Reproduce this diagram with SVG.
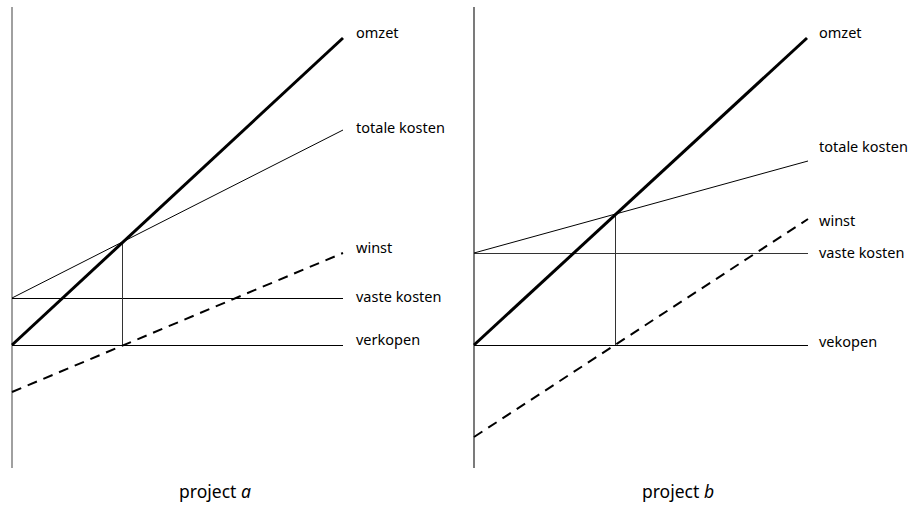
<svg xmlns="http://www.w3.org/2000/svg" width="910" height="506" viewBox="0 0 910 506">
  <style>
    .axis { stroke: #808080; stroke-width: 1.5; fill: none; }
    .axis-b { stroke: #222; stroke-width: 1.2; fill: none; }
    .thin { stroke: #000; stroke-width: 1; fill: none; }
    .guide { stroke: #333; stroke-width: 1; fill: none; }
    .revenue { stroke: #000; stroke-width: 3; fill: none; }
    .profit { stroke: #000; stroke-width: 2; stroke-dasharray: 10 7; fill: none; }
    .lbl { font-family: "Noto Sans", "Liberation Sans", sans-serif; font-size: 14.5px; fill: #000; }
    .cap { font-family: "Noto Sans", "Liberation Sans", sans-serif; font-size: 17.5px; fill: #000; }
  </style>
  <rect width="910" height="506" fill="#fff"/>

  <!-- project a -->
  <g id="chart-a">
    <g id="connectors-a">
      <line class="axis" x1="12" y1="7" x2="12" y2="468"/>
      <line class="thin" x1="12" y1="298.5" x2="343" y2="298.5"/>
      <line class="thin" x1="12" y1="345.5" x2="343" y2="345.5"/>
      <line class="thin" x1="12" y1="298" x2="343" y2="130"/>
      <line class="guide" x1="122.5" y1="243" x2="122.5" y2="345"/>
      <line class="revenue" x1="12" y1="345" x2="343" y2="38"/>
      <line class="profit" x1="12" y1="392" x2="343" y2="253"/>
    </g>
    <g id="labels-a">
      <text class="lbl" x="356" y="38">omzet</text>
      <text class="lbl" x="356" y="133">totale kosten</text>
      <text class="lbl" x="356" y="253">winst</text>
      <text class="lbl" x="356" y="302">vaste kosten</text>
      <text class="lbl" x="356" y="345">verkopen</text>
    </g>
    <text class="cap" x="215" y="498" text-anchor="middle">project <tspan font-style="italic">a</tspan></text>
  </g>

  <!-- project b -->
  <g id="chart-b">
    <g id="connectors-b">
      <line class="axis-b" x1="474" y1="7" x2="474" y2="468"/>
      <line class="guide" x1="474" y1="253.5" x2="808" y2="253.5"/>
      <line class="thin" x1="474" y1="345.5" x2="808" y2="345.5"/>
      <line class="thin" x1="474" y1="253" x2="808" y2="161"/>
      <line class="guide" x1="615.5" y1="213" x2="615.5" y2="345"/>
      <line class="revenue" x1="474" y1="345" x2="807" y2="38"/>
      <line class="profit" x1="474" y1="437" x2="808" y2="219"/>
    </g>
    <g id="labels-b">
      <text class="lbl" x="819" y="38">omzet</text>
      <text class="lbl" x="819" y="152">totale kosten</text>
      <text class="lbl" x="819" y="226">winst</text>
      <text class="lbl" x="819" y="258">vaste kosten</text>
      <text class="lbl" x="819" y="347">vekopen</text>
    </g>
    <text class="cap" x="678" y="498" text-anchor="middle">project <tspan font-style="italic">b</tspan></text>
  </g>
</svg>
